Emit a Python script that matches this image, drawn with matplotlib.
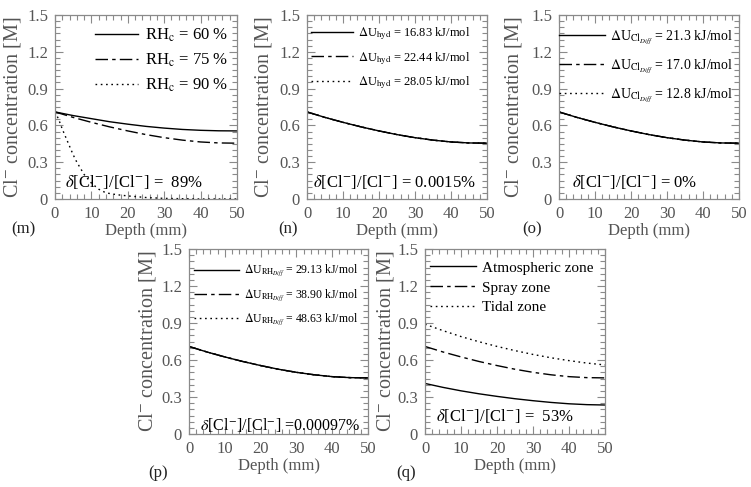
import matplotlib
matplotlib.use("Agg")
import matplotlib.pyplot as plt
from matplotlib.ticker import MultipleLocator, FixedLocator, FixedFormatter

plt.rcParams["font.family"] = ["Liberation Serif", "DejaVu Serif"]
plt.rcParams["mathtext.fontset"] = "stix"

# depth grid (mm) shared by the smooth curves
depth = [0, 5, 10, 15, 20, 25, 30, 35, 40, 45, 50]

# base profile, identical in (n), (o), (p) and the 75 % / spray curves
base_conc = [0.71, 0.665, 0.625, 0.588, 0.555, 0.525, 0.50, 0.48, 0.465, 0.457, 0.455]
rh60_conc = [0.71, 0.68, 0.655, 0.63, 0.61, 0.592, 0.578, 0.567, 0.56, 0.556, 0.555]
atmos_conc = [0.41, 0.378, 0.35, 0.326, 0.305, 0.286, 0.27, 0.256, 0.245, 0.238, 0.235]
tidal_conc = [0.89, 0.838, 0.79, 0.748, 0.71, 0.676, 0.645, 0.618, 0.595, 0.575, 0.56]

# fast decaying curve for RH_c = 90 %
rh90_depth = [0, 1, 2, 3, 4, 5, 6, 8, 10, 12, 14, 17, 20, 25, 30, 40, 50]
rh90_conc = [0.71, 0.65, 0.57, 0.50, 0.43, 0.36, 0.30, 0.20, 0.13, 0.08, 0.05,
             0.035, 0.025, 0.012, 0.005, 0.0, 0.0]

labels_m = [r"RH$_\mathrm{c}$ = 60 %", r"RH$_\mathrm{c}$ = 75 %", r"RH$_\mathrm{c}$ = 90 %"]
labels_n = [r"$\Delta$U$_\mathrm{hyd}$ = 16.83 kJ/mol",
            r"$\Delta$U$_\mathrm{hyd}$ = 22.44 kJ/mol",
            r"$\Delta$U$_\mathrm{hyd}$ = 28.05 kJ/mol"]
labels_o = [r"$\Delta$U$_{\mathrm{Cl}_{Diff}}$ = 21.3 kJ/mol",
            r"$\Delta$U$_{\mathrm{Cl}_{Diff}}$ = 17.0 kJ/mol",
            r"$\Delta$U$_{\mathrm{Cl}_{Diff}}$ = 12.8 kJ/mol"]
labels_p = [r"$\Delta$U$_{\mathrm{RH}_{Diff}}$ = 29.13 kJ/mol",
            r"$\Delta$U$_{\mathrm{RH}_{Diff}}$ = 38.90 kJ/mol",
            r"$\Delta$U$_{\mathrm{RH}_{Diff}}$ = 48.63 kJ/mol"]
labels_q = ["Atmospheric zone", "Spray zone", "Tidal zone"]

notes = {
    "m": r"$\delta$[Cl$^{-}$]/[Cl$^{-}$] =  89%",
    "n": r"$\delta$[Cl$^{-}$]/[Cl$^{-}$] = 0.0015%",
    "o": r"$\delta$[Cl$^{-}$]/[Cl$^{-}$] = 0%",
    "p": r"$\delta$[Cl$^{-}$]/[Cl$^{-}$] =0.00097%",
    "q": r"$\delta$[Cl$^{-}$]/[Cl$^{-}$] =  53%",
}

yticks = [0, 0.3, 0.6, 0.9, 1.2, 1.5]
ytick_labels = ["0", "0.3", "0.6", "0.9", "1.2", "1.5"]

GRAY = "#8a8a8a"
LABEL = "#555555"
W, H = 751, 487

styles = ["-", (0, (9, 3, 2.5, 3)), (0, (1.2, 2.6))]


def make_axes(fig, left, right, top, bottom):
    return fig.add_axes([left / W, 1 - bottom / H, (right - left) / W, (bottom - top) / H])


def style_axes(ax, ylab_off):
    ax.set_xlim(0, 50)
    ax.set_ylim(0, 1.5)
    ax.xaxis.set_major_locator(MultipleLocator(10))
    ax.xaxis.set_minor_locator(MultipleLocator(2))
    ax.yaxis.set_major_locator(FixedLocator(yticks))
    ax.yaxis.set_major_formatter(FixedFormatter(ytick_labels))
    ax.yaxis.set_minor_locator(MultipleLocator(0.05))
    ax.tick_params(which="both", direction="in", top=True, right=True,
                   color=GRAY, labelcolor=LABEL, labelsize=12, width=0.8)
    ax.tick_params(which="major", length=6, pad=5)
    ax.tick_params(which="minor", length=3.5)
    for s in ax.spines.values():
        s.set_color(GRAY)
        s.set_linewidth(0.9)
    ax.set_xlabel("Depth (mm)", fontsize=12, color=LABEL, labelpad=1)
    ax.set_ylabel(r"Cl$^{-}$ concentration [M]", fontsize=14.5, color=LABEL, va="center")
    ax.yaxis.set_label_coords(ylab_off, 0.5)


fig = plt.figure(figsize=(W / 100, H / 100), dpi=100)

ax_m = make_axes(fig, 55, 237, 15, 199)
ax_n = make_axes(fig, 307, 487, 15, 199)
ax_o = make_axes(fig, 559, 739, 15, 199)
ax_p = make_axes(fig, 189, 368, 249, 434)
ax_q = make_axes(fig, 425, 605, 249, 434)

# (m) relative humidity threshold
ax_m.plot(depth, rh60_conc, color="k", lw=1.0, ls=styles[0], label=labels_m[0])
ax_m.plot(depth, base_conc, color="k", lw=1.0, ls=styles[1], label=labels_m[1])
ax_m.plot(rh90_depth, rh90_conc, color="k", lw=1.0, ls=styles[2], label=labels_m[2])

# (n), (o), (p): the three curves coincide, solid drawn last
for ax, labs in [(ax_n, labels_n), (ax_o, labels_o), (ax_p, labels_p)]:
    for i in (2, 1, 0):
        ax.plot(depth, base_conc, color="k", lw=1.0, ls=styles[i], label=labs[i])

# (q) exposure zones
ax_q.plot(depth, atmos_conc, color="k", lw=1.0, ls=styles[0], label=labels_q[0])
ax_q.plot(depth, base_conc, color="k", lw=1.0, ls=styles[1], label=labels_q[1])
ax_q.plot(depth, tidal_conc, color="k", lw=1.0, ls=styles[2], label=labels_q[2])

legend_cfg = {
    # ax, anchor (axes frac), fontsize, handlelength, labelspacing
    "m": (ax_m, (0.22, 0.935), 12, 2.6, 0.45),
    "n": (ax_n, (0.02, 0.945), 9, 3.4, 0.65),
    "o": (ax_o, (0.0, 0.925), 10, 3.3, 0.8),
    "p": (ax_p, (0.03, 0.925), 8.5, 3.8, 0.65),
    "q": (ax_q, (0.03, 0.935), 11, 3.0, 0.4),
}
for key, (ax, anchor, fs, hl, ls) in legend_cfg.items():
    h, l = ax.get_legend_handles_labels()
    if key in ("n", "o", "p"):
        h, l = h[::-1], l[::-1]
    ax.legend(h, l, loc="upper left", bbox_to_anchor=anchor, frameon=False,
              fontsize=fs, handlelength=hl, handletextpad=0.4, labelspacing=ls,
              borderpad=0, borderaxespad=0)

note_pos = {"m": (ax_m, 2.7, 0.14, 12), "n": (ax_n, 1.7, 0.14, 12), "o": (ax_o, 3.6, 0.14, 12),
            "p": (ax_p, 3.1, 0.07, 11.5), "q": (ax_q, 3.1, 0.143, 12)}
for key, (ax, x, y, fs) in note_pos.items():
    ax.text(x, y, notes[key], fontsize=fs, ha="left", va="center", color="k")

# y label centre offsets (axes fraction)
for ax, off in [(ax_m, -42 / 182), (ax_n, -44 / 180), (ax_o, -46 / 180),
                (ax_p, -42 / 179), (ax_q, -39 / 180)]:
    style_axes(ax, off)

panel_labels = [("(m)", 23, 229), ("(n)", 288, 229), ("(o)", 532, 229),
                ("(p)", 158, 473), ("(q)", 406, 473)]
for txt, px, py in panel_labels:
    fig.text(px / W, 1 - py / H, txt, fontsize=12, ha="center", va="center", color="#222222")

fig.savefig("out.png", dpi=100)
